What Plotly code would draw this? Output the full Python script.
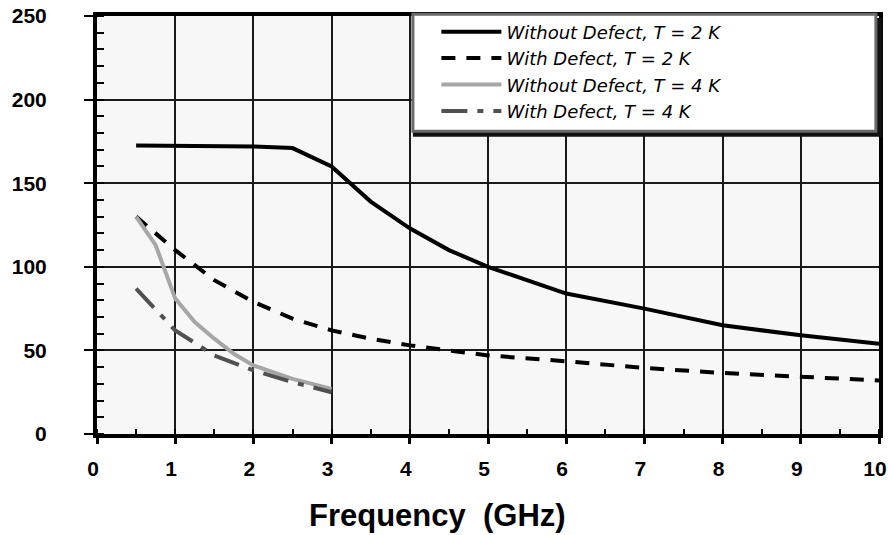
import plotly.graph_objects as go

# Data
x_wo2 = [0.5, 1, 1.5, 2, 2.5, 3, 3.5, 4, 4.5, 5, 6, 7, 8, 9, 10]
y_wo2 = [172.5, 172.5, 172.5, 172, 171, 160, 139, 123, 110, 100, 84, 75, 65, 59, 54]
x_w2 = [0.5, 1, 1.5, 2, 2.5, 3, 3.5, 4, 4.5, 5, 6, 7, 8, 9, 10]
y_w2 = [130, 110, 92, 79, 69, 62, 57, 53, 50, 47, 43.5, 39.5, 36.5, 34, 32]
x_wo4 = [0.5, 0.75, 1, 1.25, 1.5, 1.75, 2, 2.5, 3]
y_wo4 = [130, 113, 81, 67, 57, 48, 41, 33, 27]
x_w4 = [0.5, 1, 1.5, 2, 2.5, 3]
y_w4 = [87, 62, 47, 38, 31, 25]

names = ["Without Defect, T = 2 K", "With Defect, T = 2 K",
         "Without Defect, T = 4 K", "With Defect, T = 4 K"]
x_ticks = list(range(0, 11))
x_ticktext = [str(v) for v in x_ticks]
y_ticks = [0, 50, 100, 150, 200, 250]
x_title = "Frequency  (GHz)"

FONT = "Arial, Liberation Sans, sans-serif"
LEG_FONT = "DejaVu Sans, Arial, sans-serif"

fig = go.Figure()
fig.add_trace(go.Scatter(x=x_wo2, y=y_wo2, mode="lines", name=names[0],
                         line=dict(color="black", width=4)))
fig.add_trace(go.Scatter(x=x_w2, y=y_w2, mode="lines", name=names[1],
                         line=dict(color="black", width=4, dash="14px,11px")))
fig.add_trace(go.Scatter(x=x_wo4, y=y_wo4, mode="lines", name=names[2],
                         line=dict(color="#a6a6a6", width=4)))
fig.add_trace(go.Scatter(x=x_w4, y=y_w4, mode="lines", name=names[3],
                         line=dict(color="#505050", width=4, dash="26px,10px,6px,10px")))

# Legend box with shadow
fig.add_shape(type="rect", xref="paper", yref="paper", x0=0.404, x1=1.004,
              y0=0.711, y1=0.995, fillcolor="#111111", line=dict(width=0), layer="above")
fig.add_shape(type="rect", xref="paper", yref="paper", x0=0.404, x1=0.996,
              y0=0.724, y1=1.004, fillcolor="white", line=dict(color="#6a6a6a", width=3),
              layer="above")

fig.add_annotation(text=x_title, xref="paper", yref="paper", x=0.436, y=-0.194,
                   xanchor="center", yanchor="middle", showarrow=False,
                   font=dict(size=31, family=FONT, weight="bold", color="black"))

fig.update_layout(
    width=888, height=535,
    margin=dict(l=97, r=9, t=16, b=101),
    paper_bgcolor="white",
    plot_bgcolor="#f7f7f7",
    font=dict(family=FONT, color="black"),
    showlegend=True,
    legend=dict(x=0.434, y=1.006, xanchor="left", yanchor="top",
                bgcolor="rgba(0,0,0,0)", borderwidth=0,
                font=dict(size=18, style="italic", family=LEG_FONT),
                tracegroupgap=0, itemwidth=60),
    xaxis=dict(range=[0, 10], tickvals=x_ticks, ticktext=x_ticktext,
               showgrid=True, gridcolor="#1a1a1a", gridwidth=1.6,
               showline=True, linecolor="black", linewidth=4, mirror=True,
               ticks="outside", ticklen=6, tickwidth=3, tickcolor="black",
               minor=dict(dtick=0.5, ticks="inside", ticklen=5, tickwidth=2,
                          tickcolor="black", showgrid=False),
               tickfont=dict(size=21, family=FONT, weight="bold"),
               ticklabelstandoff=7, ticklabelshift=-4, automargin=False,
               ticklabeloverflow="allow", zeroline=False),
    yaxis=dict(range=[0, 250], tickvals=y_ticks, ticktext=[str(v) for v in y_ticks],
               showgrid=True, gridcolor="#1a1a1a", gridwidth=1.6,
               showline=True, linecolor="black", linewidth=4, mirror=True,
               ticks="outside", ticklen=9, tickwidth=2, tickcolor="black",
               minor=dict(dtick=10, ticks="inside", ticklen=7, tickwidth=2,
                          tickcolor="black", showgrid=False),
               tickfont=dict(size=21, family=FONT, weight="bold"),
               ticklabelstandoff=33, automargin=False, ticklabeloverflow="allow",
               zeroline=False),
)

fig.write_html("out.html", config={"displayModeBar": False},
               post_script="document.body.style.margin='0px';")
